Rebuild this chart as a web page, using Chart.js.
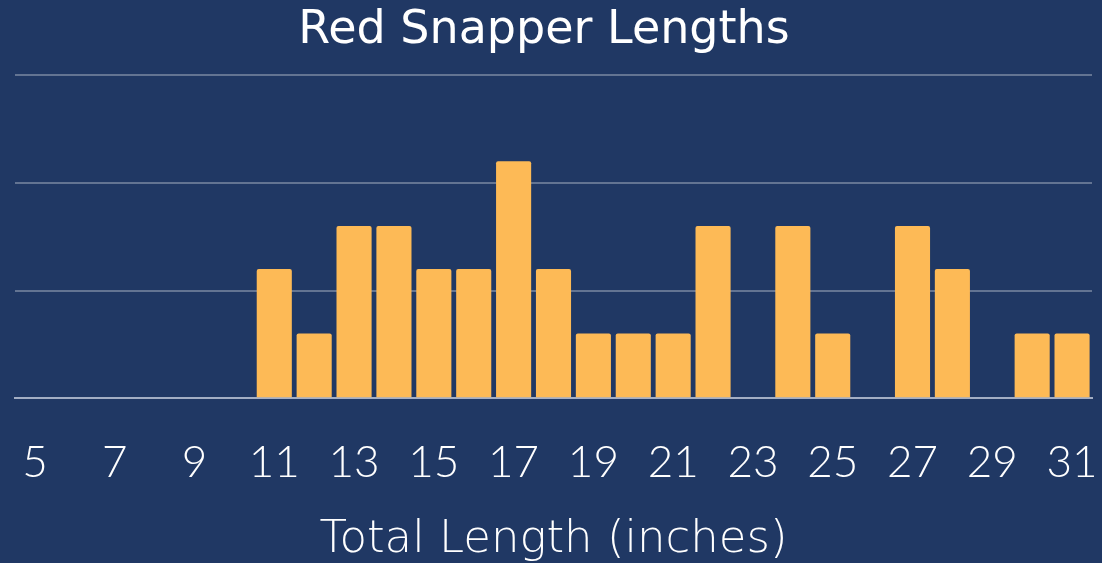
<!DOCTYPE html>
<html>
<head>
<meta charset="utf-8">
<script src="https://cdn.jsdelivr.net/npm/chart.js@4.4.1/dist/chart.umd.min.js"></script>
<style>
  html, body { margin: 0; padding: 0; background: #203864; }
  #wrap { width: 1102px; height: 563px; }
</style>
</head>
<body>
<div id="wrap"><canvas id="chart"></canvas></div>
<script>
// --- Data ---
const lengths = ['5', '6', '7', '8', '9', '10', '11', '12', '13', '14', '15', '16', '17', '18',
                 '19', '20', '21', '22', '23', '24', '25', '26', '27', '28', '29', '30', '31'];
const counts = [0, 0, 0, 0, 0, 0, 6, 3, 8, 8, 6, 6, 11, 6, 3, 3, 3, 8, 0, 8, 3, 0, 8, 6, 0, 3, 3];
const yTicks = [0, 5, 10, 15];

const ctx = document.getElementById('chart').getContext('2d');

new Chart(ctx, {
    type: 'bar',
    data: {
        labels: lengths,
        datasets: [{
            label: 'Count',
            data: counts,
            backgroundColor: '#FDBA56',
            borderRadius: 2,
            borderSkipped: 'bottom',
            barPercentage: 0.88,
            categoryPercentage: 1.0
        }]
    },
    options: {
        responsive: true,
        maintainAspectRatio: false,
        animation: false,
        layout: {
            // left is negative so the chart title sits a bit left of centre
            padding: { left: -4, right: 10, top: 0, bottom: 0 }
        },
        plugins: {
            legend: { display: false },
            tooltip: { enabled: false },
            title: {
                display: true,
                text: 'Red Snapper Lengths',
                color: '#ffffff',
                font: { family: 'DejaVu Sans', size: 46, weight: 'normal', lineHeight: 1.2 },
                padding: { top: 3, bottom: 17 }
            }
        },
        scales: {
            x: {
                grid: { display: false, drawTicks: false },
                border: { display: true, color: '#a3aec4', width: 2 },
                ticks: {
                    color: '#ffffff',
                    font: { family: 'Lato', size: 44, weight: '300' },
                    padding: 38,
                    autoSkip: false,
                    maxRotation: 0,
                    callback: function (value, index) {
                        return index % 2 === 0 ? this.getLabelForValue(value) : '';
                    }
                },
                title: {
                    display: true,
                    text: 'Total Length (inches)',
                    color: '#ffffff',
                    font: { family: 'DejaVu Sans', size: 45, weight: '200', lineHeight: 1.0 },
                    padding: { top: -9, bottom: 0 }
                },
                // fixed side padding instead of the label based one
                afterFit: function (scale) {
                    scale.paddingLeft = 15;
                    scale.paddingRight = 0;
                }
            },
            y: {
                min: yTicks[0],
                max: yTicks[yTicks.length - 1],
                ticks: { display: false, stepSize: 5 },
                grid: {
                    color: 'rgba(255,255,255,0.3)',
                    lineWidth: 2,
                    drawTicks: false
                },
                border: { display: false }
            }
        }
    }
});
</script>
</body>
</html>
